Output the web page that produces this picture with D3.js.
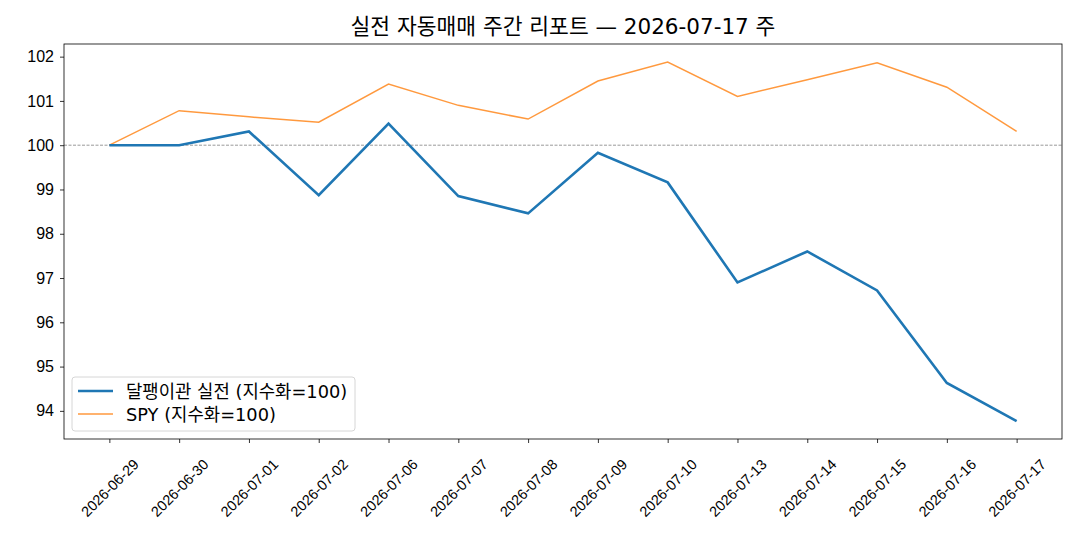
<!DOCTYPE html>
<html>
<head>
<meta charset="utf-8">
<script src="https://cdn.jsdelivr.net/npm/d3@7"></script>
<style>
    body { margin: 0; background: #fff; }
    svg { font-family: "DejaVu Sans", "Noto Sans CJK KR", sans-serif; }
    .axis path, .axis line { stroke: #000; stroke-width: 0.8; }
    .axis text { fill: #000; }
</style>
</head>
<body>
<div id="chart"></div>
<script>
// 날짜 (거래일)
var dates = ['2026-06-29', '2026-06-30', '2026-07-01', '2026-07-02', '2026-07-06', '2026-07-07', '2026-07-08',
             '2026-07-09', '2026-07-10', '2026-07-13', '2026-07-14', '2026-07-15', '2026-07-16', '2026-07-17'];

// 지수화 값 (시작=100)
var strategyValues = [100, 100, 100.31, 98.87, 100.49, 98.85, 98.46, 99.83, 99.16, 96.90, 97.60, 96.72, 94.63, 93.77];
var spyValues = [100, 100.78, 100.64, 100.52, 101.38, 100.90, 100.59, 101.45, 101.88, 101.10, 101.48, 101.86, 101.31, 100.31];

var yTicks = [94, 95, 96, 97, 98, 99, 100, 101, 102];

var titleText = '실전 자동매매 주간 리포트 — 2026-07-17 주';
var strategyLabel = '달팽이관 실전 (지수화=100)';
var spyLabel = 'SPY (지수화=100)';

function drawChart() {
    const width = 1080;
    const height = 540;
    const left = 64, right = 1062, top = 44, bottom = 439;

    var svg = d3.select('#chart')
        .append('svg')
        .attr('width', width)
        .attr('height', height);

    var all = strategyValues.concat(spyValues);
    var yMin = d3.min(all), yMax = d3.max(all);
    var yPad = (yMax - yMin) * 0.05;
    var xPad = (dates.length - 1) * 0.05;

    const xScale = d3.scaleLinear()
        .domain([-xPad, dates.length - 1 + xPad])
        .range([left, right]);
    const yScale = d3.scaleLinear()
        .domain([yMin - yPad, yMax + yPad])
        .range([bottom, top]);

    // 기준선 100
    svg.append('line')
        .attr('x1', left).attr('x2', right)
        .attr('y1', yScale(100)).attr('y2', yScale(100))
        .attr('stroke', '#808080')
        .attr('stroke-width', 0.8)
        .attr('stroke-dasharray', '3,1.5');

    var line = d3.line()
        .x((d, i) => xScale(i))
        .y((d) => yScale(d));

    svg.append('path')
        .datum(spyValues)
        .attr('d', line)
        .attr('fill', 'none')
        .attr('stroke', '#ff7f0e')
        .attr('stroke-opacity', 0.8)
        .attr('stroke-width', 1.5);

    svg.append('path')
        .datum(strategyValues)
        .attr('d', line)
        .attr('fill', 'none')
        .attr('stroke', '#1f77b4')
        .attr('stroke-width', 2.6);

    // 축
    var xAxis = d3.axisBottom(xScale)
        .tickValues(d3.range(dates.length))
        .tickFormat((i) => dates[i])
        .tickSize(4)
        .tickSizeOuter(0);
    var gx = svg.append('g')
        .attr('class', 'axis')
        .attr('transform', 'translate(0,' + bottom + ')')
        .call(xAxis);
    gx.select('.domain').remove();
    gx.selectAll('text')
        .attr('font-size', 14.5)
        .attr('text-anchor', 'middle')
        .attr('dy', null)
        .attr('y', null)
        .attr('dominant-baseline', 'central')
        .attr('transform', 'translate(0,49) rotate(-45)');

    var yAxis = d3.axisLeft(yScale)
        .tickValues(yTicks)
        .tickSize(4)
        .tickPadding(6);
    var gy = svg.append('g')
        .attr('class', 'axis')
        .attr('transform', 'translate(' + left + ',0)')
        .call(yAxis);
    gy.select('.domain').remove();
    gy.selectAll('text').attr('font-size', 16);

    // 테두리
    svg.append('rect')
        .attr('x', left).attr('y', top)
        .attr('width', right - left).attr('height', bottom - top)
        .attr('fill', 'none')
        .attr('stroke', '#000')
        .attr('stroke-width', 0.8);

    // 제목
    svg.append('text')
        .attr('x', (left + right) / 2)
        .attr('y', 34)
        .attr('text-anchor', 'middle')
        .attr('font-size', 21.5)
        .text(titleText);

    // 범례
    var legend = svg.append('g').attr('transform', 'translate(72,377)');
    legend.append('rect')
        .attr('width', 283).attr('height', 54)
        .attr('rx', 3)
        .attr('fill', '#fff')
        .attr('fill-opacity', 0.8)
        .attr('stroke', '#d6d6d6')
        .attr('stroke-width', 1);
    var items = [
        {label: strategyLabel, color: '#1f77b4', width: 2.6, opacity: 1},
        {label: spyLabel, color: '#ff7f0e', width: 1.5, opacity: 0.8}
    ];
    var rows = legend.selectAll('g.item')
        .data(items)
        .enter()
        .append('g')
        .attr('class', 'item')
        .attr('transform', (d, i) => 'translate(0,' + (14 + i * 23) + ')');
    rows.append('line')
        .attr('x1', 6).attr('x2', 41)
        .attr('stroke', (d) => d.color)
        .attr('stroke-width', (d) => d.width)
        .attr('stroke-opacity', (d) => d.opacity);
    rows.append('text')
        .attr('x', 54)
        .attr('dominant-baseline', 'central')
        .attr('font-size', 17.8)
        .text((d) => d.label);
}

drawChart();
</script>
</body>
</html>
